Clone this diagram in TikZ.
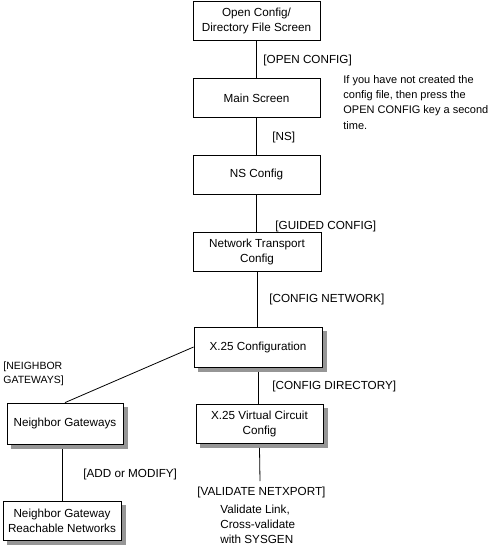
\documentclass[tikz,border=0pt]{standalone}
\usepackage{fontspec}
\setmainfont{Liberation Sans}
\definecolor{shadowgray}{RGB}{150,150,150}
\tikzset{
    screen/.style={draw, line width=0.8pt, fill=white, align=center,
        inner sep=0pt, minimum width=127pt, minimum height=39pt},
    shade box/.style={fill=shadowgray, draw=none},
    keylabel/.style={anchor=west, inner sep=0pt},
    notetext/.style={anchor=north west, align=left, inner sep=0pt}
}

\begin{document}
\begin{tikzpicture}[x=1pt, y=-1pt, line width=0.8pt,
    every node/.style={font=\fontsize{11.7}{15}\selectfont}]
\useasboundingbox (0,0) rectangle (490,547);

% main column of screens
\node[screen] (open) at (256.5,21) {Open Config/\\Directory File Screen};
\node[screen] (main) at (256.5,98) {Main Screen};
\node[screen] (ns) at (256.5,174.5) {NS Config};
\node[screen, minimum width=128pt] (ntc) at (257,251.5) {Network Transport\\Config};

% lower boxes, shadow strips drawn first
\foreach \cx/\cy/\w/\h in {258/347/128/40, 259.5/423.5/127/39, 65/423.5/116/41, 62/520.5/118/39}{
    \fill[shade box] (\cx+\w/2,\cy-\h/2+4) rectangle (\cx+\w/2+4.5,\cy+\h/2+4.5);
    \fill[shade box] (\cx-\w/2+4,\cy+\h/2) rectangle (\cx+\w/2+4.5,\cy+\h/2+4.5);
}
\node[screen, minimum width=128pt, minimum height=40pt] (x25) at (258,347) {X.25 Configuration};
\node[screen] (vc) at (259.5,423.5) {X.25 Virtual Circuit\\Config};

% neighbor branch
\node[screen, minimum width=116pt, minimum height=41pt] (ngw) at (65,423.5) {Neighbor Gateways};
\node[screen, minimum width=118pt] (ngr) at (62,520.5) {Neighbor Gateway\\Reachable Networks};

\coordinate (vcend) at (260,481);

\draw (open) -- (main);
\draw (main) -- (ns);
\draw (ns.south) -- (ns.south |- ntc.north);
\draw (ntc.south) -- (ntc.south |- x25.north);
\draw (x25.south) ++(0,4.5) coordinate (x25s) -- (x25s |- vc.north);
\draw (x25.west) -- (ngw.north);
\draw (ngr.north |- ngw.south) ++(0,4.5) coordinate (ngws) -- (ngr.north);
\draw (vc.south) ++(0,4.5) coordinate (vcs) -- (vcend);

% key labels
\node[keylabel] (kopen) at (263,60) {[OPEN CONFIG]};
\node[keylabel] (kns) at (272,137) {[NS]};
\node[keylabel] (kguided) at (275,226) {[GUIDED CONFIG]};
\node[keylabel] (knet) at (269,299) {[CONFIG NETWORK]};
\node[keylabel] (kdir) at (272,386) {[CONFIG DIRECTORY]};
\node[keylabel] (kadd) at (83,474) {[ADD or MODIFY]};
\node[keylabel] (kval) at (197,492) {[VALIDATE NETXPORT]};
\node[notetext, font=\fontsize{10.5}{14}\selectfont] (kngw) at (3,361) {[NEIGHBOR\\GATEWAYS]};

% notes
\node[notetext, font=\fontsize{11}{15.3}\selectfont] (note) at (343,75)
    {If you have not created the\\config file, then press the\\OPEN CONFIG key a second\\time.};
\node[notetext] (valnote) at (220,505) {Validate Link,\\Cross-validate\\with SYSGEN};
\end{tikzpicture}
\end{document}
